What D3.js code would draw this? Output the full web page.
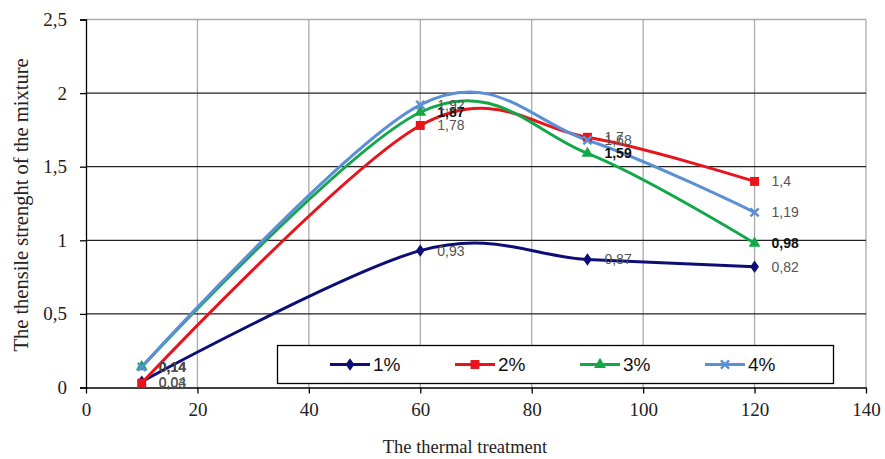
<!DOCTYPE html>
<html><head><meta charset="utf-8">
<script src="https://cdn.jsdelivr.net/npm/d3@7"></script>
<style>body{margin:0;background:#fff}svg{display:block}</style>
</head><body>
<svg id="c" width="885" height="459"></svg>
<script>
const xValues = [10, 60, 90, 120];
const s1 = [0.04, 0.93, 0.87, 0.82];
const s2 = [0.03, 1.78, 1.7, 1.4];
const s3 = [0.14, 1.87, 1.59, 0.98];
const s4 = [0.14, 1.92, 1.68, 1.19];
const seriesNames = ["1%", "2%", "3%", "4%"];
const seriesColors = ["#0d0d78", "#e8141c", "#12a84a", "#5b8fd6"];
const xTicks = [0, 20, 40, 60, 80, 100, 120, 140];
const yTicks = [0, 0.5, 1, 1.5, 2, 2.5];

const series = [s1, s2, s3, s4].map((v, i) => ({name: seriesNames[i], color: seriesColors[i], values: v, idx: i}));

const svg = d3.select("#c");
const x = d3.scaleLinear().domain([0, 140]).range([86, 866]);
const y = d3.scaleLinear().domain([0, 2.5]).range([387.5, 19.5]);
const serif = "Liberation Serif, Times New Roman, serif";
const sans = "Liberation Sans, Arial, sans-serif";
const fmt = v => String(v).replace(".", ",");

// vertical grid
svg.append("g").selectAll("line").data(xTicks.slice(1)).join("line")
  .attr("x1", d => x(d)).attr("x2", d => x(d)).attr("y1", y(2.5)).attr("y2", y(0))
  .attr("stroke", "#aaa").attr("stroke-width", 1.3);
// horizontal grid
svg.append("g").selectAll("line").data(yTicks.slice(1)).join("line")
  .attr("x1", x(0)).attr("x2", x(140)).attr("y1", d => y(d)).attr("y2", d => y(d))
  .attr("stroke", d => d === 2.5 ? "#aaa" : "#222").attr("stroke-width", 1.3);

// axes
const yAxis = d3.axisLeft(y).tickValues(yTicks).tickSize(6).tickPadding(13).tickFormat(fmt);
const gy = svg.append("g").attr("transform", `translate(${x(0)},0)`).call(yAxis);
const xAxis = d3.axisBottom(x).tickValues(xTicks).tickSize(6).tickPadding(9).tickFormat(d => d);
const gx = svg.append("g").attr("transform", `translate(0,${y(0)})`).call(xAxis);
[gx, gy].forEach(g => {
  g.attr("font-family", serif).attr("font-size", 19);
  g.select(".domain").attr("stroke", "#000").attr("stroke-width", 1.3);
  g.selectAll(".tick line").attr("stroke", "#000").attr("stroke-width", 1.3);
  g.selectAll("text").style("font-family", serif).style("font-size", "19px").attr("fill", "#222");
});
gx.select(".domain").attr("d", `M${x(0)},0.5H${x(140)}`);

// lines
const line = d3.line().x(d => x(d[0])).y(d => y(d[1])).curve(d3.curveCardinal.tension(0));
const sym = [d3.symbolDiamond, d3.symbolSquare, d3.symbolTriangle, d3.symbolX];
const symSize = [55, 80, 60, 45];

function drawMarker(g, i, cx, cy) {
  const p = g.append("path").attr("transform", `translate(${cx},${cy})`)
    .attr("d", d3.symbol().type(sym[i]).size(symSize[i])());
  if (i === 3) p.attr("fill", "none").attr("stroke", seriesColors[i]).attr("stroke-width", 2.5);
  else p.attr("fill", seriesColors[i]);
  if (i === 0) p.attr("transform", `translate(${cx},${cy}) scale(1.1,0.9)`);
}

series.forEach(s => {
  const pts = xValues.map((xv, j) => [xv, s.values[j]]);
  svg.append("path").datum(pts).attr("d", line).attr("fill", "none")
    .attr("stroke", s.color).attr("stroke-width", 3);
});
series.forEach(s => {
  const g = svg.append("g");
  xValues.forEach((xv, j) => drawMarker(g, s.idx, x(xv), y(s.values[j])));
});
// data labels
series.forEach(s => {
  svg.append("g").selectAll("text").data(xValues.map((xv, j) => [xv, s.values[j]])).join("text")
    .attr("x", d => x(d[0]) + 17).attr("y", d => y(d[1]) + 5)
    .attr("font-family", sans).attr("font-size", 14)
    .attr("fill", s.idx === 2 ? "#111" : "#555")
    .attr("font-weight", s.idx === 2 ? "bold" : "normal")
    .text(d => fmt(d[1]));
});

// legend
const lg = svg.append("g");
lg.append("rect").attr("x", 277.5).attr("y", 345.5).attr("width", 556).attr("height", 38)
  .attr("fill", "#fff").attr("stroke", "#000").attr("stroke-width", 1.3);
const legX = [330, 455, 580, 705];
series.forEach((s, i) => {
  lg.append("line").attr("x1", legX[i]).attr("x2", legX[i] + 40).attr("y1", 364.5).attr("y2", 364.5)
    .attr("stroke", s.color).attr("stroke-width", 3);
  drawMarker(lg, i, legX[i] + 20, 364.5);
  lg.append("text").attr("x", legX[i] + 43).attr("y", 371).attr("font-family", sans)
    .attr("font-size", 19).attr("fill", "#111").text(s.name);
});

// titles
svg.append("text").attr("x", 465).attr("y", 453).attr("text-anchor", "middle")
  .attr("font-family", serif).attr("font-size", 18.5).attr("fill", "#222").text("The thermal treatment");
svg.append("text").attr("transform", "translate(28,205) rotate(-90)").attr("text-anchor", "middle")
  .attr("font-family", serif).attr("font-size", 20.5).attr("fill", "#222").text("The thensile strenght of the mixture");
</script>
</body></html>
